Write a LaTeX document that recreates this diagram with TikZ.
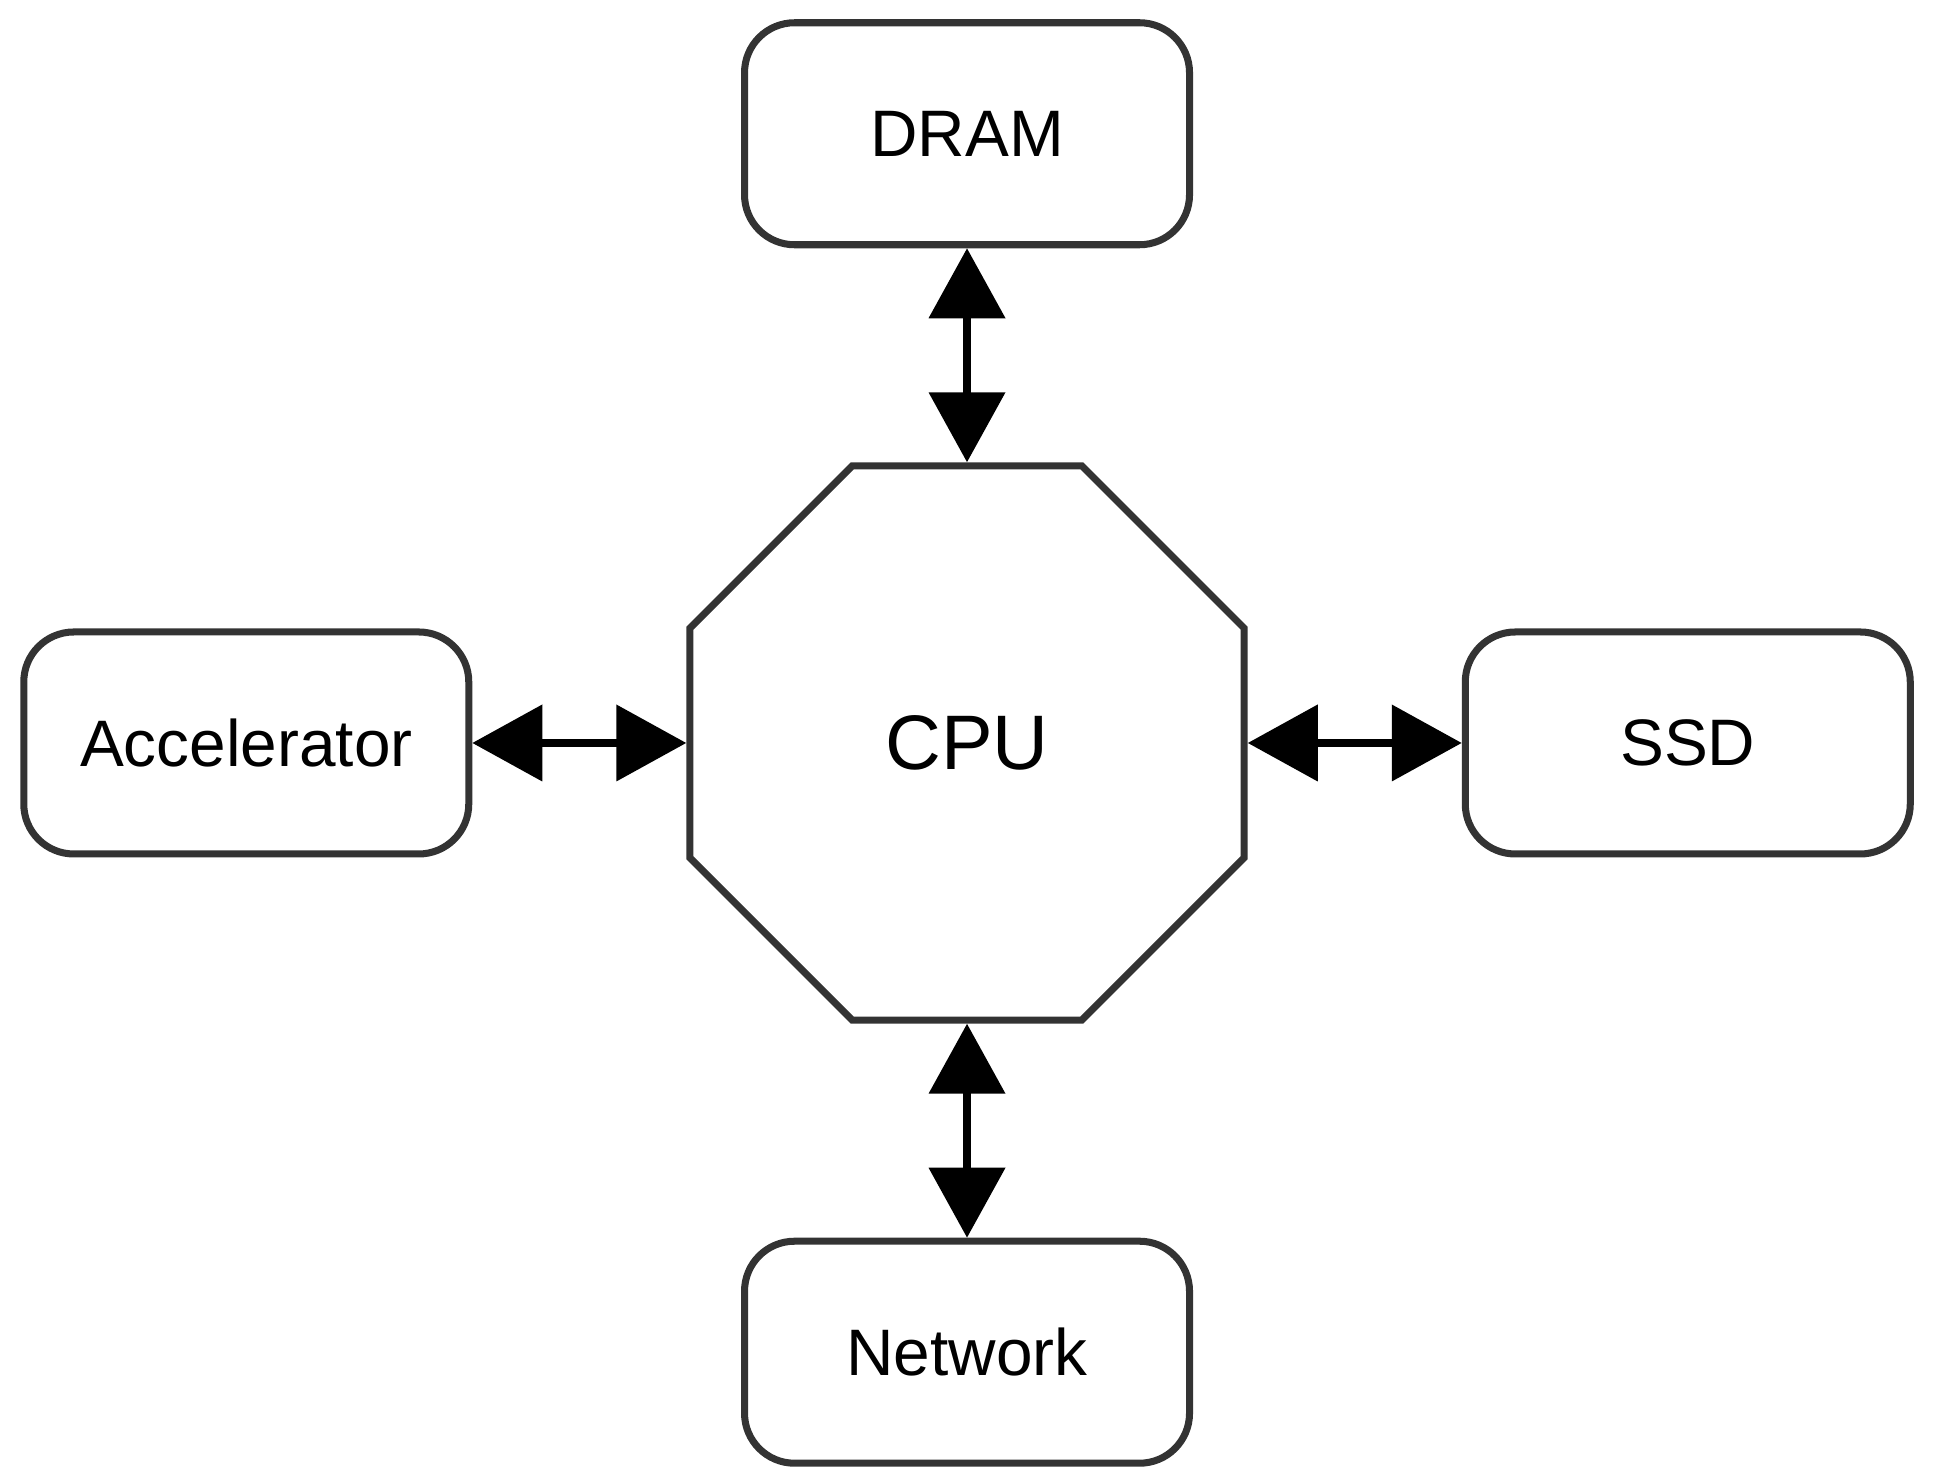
\documentclass[tikz,border=0pt]{standalone}
\usepackage{fontspec}
\setmainfont{Liberation Sans}
\usepackage{tikz}
\usetikzlibrary{positioning,arrows.meta,shapes.geometric}

\definecolor{edgegray}{HTML}{333333}

\tikzset{
  unit/.style={draw=edgegray, line width=2pt, rounded corners=0.5cm,
    minimum width=4.45cm, minimum height=2.22cm, fill=white,
    font=\fontsize{18.7}{21}\selectfont},
  core/.style={draw=edgegray, line width=2pt, regular polygon,
    regular polygon sides=8, minimum size=6.0cm, fill=white,
    font=\fontsize{22}{26}\selectfont},
  link/.style={line width=2.2pt,
    {Triangle[length=7mm,width=7.5mm]}-{Triangle[length=7mm,width=7.5mm]}},
}

\begin{document}
\begin{tikzpicture}[node distance=2.14cm and 2.14cm]
    \useasboundingbox (0,0) rectangle (19.4,14.84);
%
    \node[core] (cpu) at (9.67, 7.41) {CPU};
%
    \node[unit, above=of cpu] (dram) {DRAM};
    \node[unit, below=of cpu] (net) {Network};
    \node[unit, left=of cpu] (acc) {Accelerator};
    \node[unit, right=of cpu] (ssd) {SSD};
%
    \draw[link] (dram) -- (cpu);
    \draw[link] (cpu) -- (net);
    \draw[link] (acc) -- (cpu);
    \draw[link] (cpu) -- (ssd);
  \end{tikzpicture}
\end{document}
